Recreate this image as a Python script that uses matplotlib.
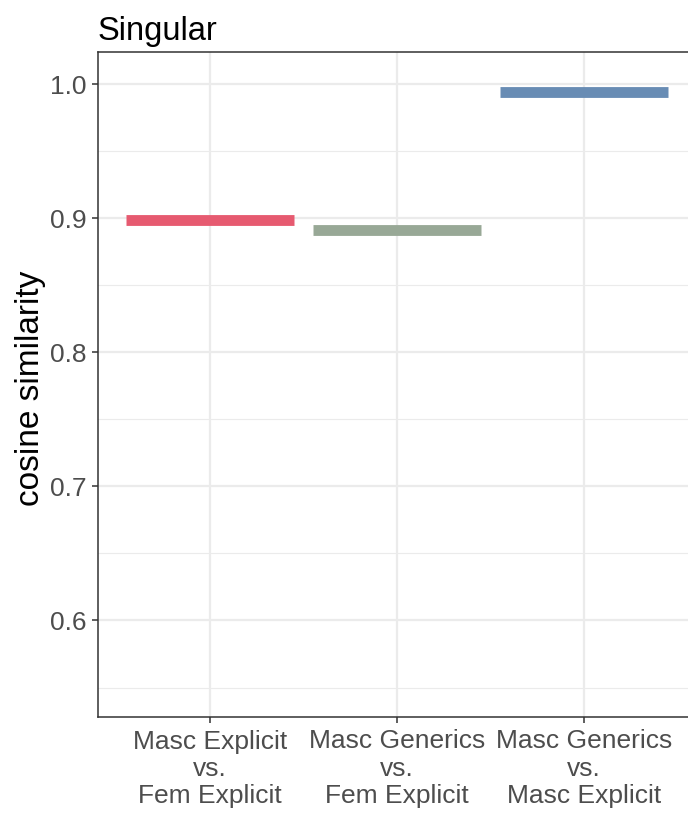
import matplotlib

matplotlib.use("Agg")
import matplotlib.pyplot as plt
import numpy as np

# data
categories = ["Masc Explicit\nvs.\nFem Explicit",
              "Masc Generics\nvs.\nFem Explicit",
              "Masc Generics\nvs.\nMasc Explicit"]
similarity = [0.899, 0.891, 0.994]
colors = ["#E65A70", "#98A896", "#688CB4"]

plt.rcParams["font.family"] = ["Liberation Sans", "DejaVu Sans"]

W, H = 688, 815
fig = plt.figure(figsize=(W / 100, H / 100), dpi=100)
ax = fig.add_axes([98 / W, 1 - 717 / H, 598 / W, 665 / H])

x = np.arange(1, len(categories) + 1)
ax.hlines(similarity, x - 0.45, x + 0.45, colors=colors, linewidth=7.8,
          capstyle="butt", zorder=3)

ax.set_xlim(0.4, 3.6)
ax.set_ylim(0.528, 1.024)
ax.set_xticks(x)
ax.set_xticklabels(categories, linespacing=1.17)
ax.set_yticks([0.6, 0.7, 0.8, 0.9, 1.0])
ax.set_yticks(np.arange(0.55, 1.0, 0.1), minor=True)
ax.yaxis.set_major_formatter(matplotlib.ticker.FormatStrFormatter("%.1f"))

ax.grid(which="major", color="#EBEBEB", linewidth=1.6, zorder=0)
ax.grid(which="minor", axis="y", color="#EBEBEB", linewidth=0.8, zorder=0)
ax.set_axisbelow(True)
ax.tick_params(axis="both", which="major", length=4, width=1.1, color="#333333",
               labelcolor="#4D4D4D", labelsize=19, pad=4)
ax.tick_params(axis="x", which="major", pad=5)
ax.tick_params(axis="y", which="minor", length=0)
for s in ax.spines.values():
    s.set_color("#333333")
    s.set_linewidth(1.1)

ax.set_title("Singular", loc="left", fontsize=23.5, pad=9, color="black")
fig.text(31 / W, 1 - 388 / H, "cosine similarity", rotation=90, ha="center",
         va="center", fontsize=24, color="black")

fig.savefig("out.png", dpi=100)
